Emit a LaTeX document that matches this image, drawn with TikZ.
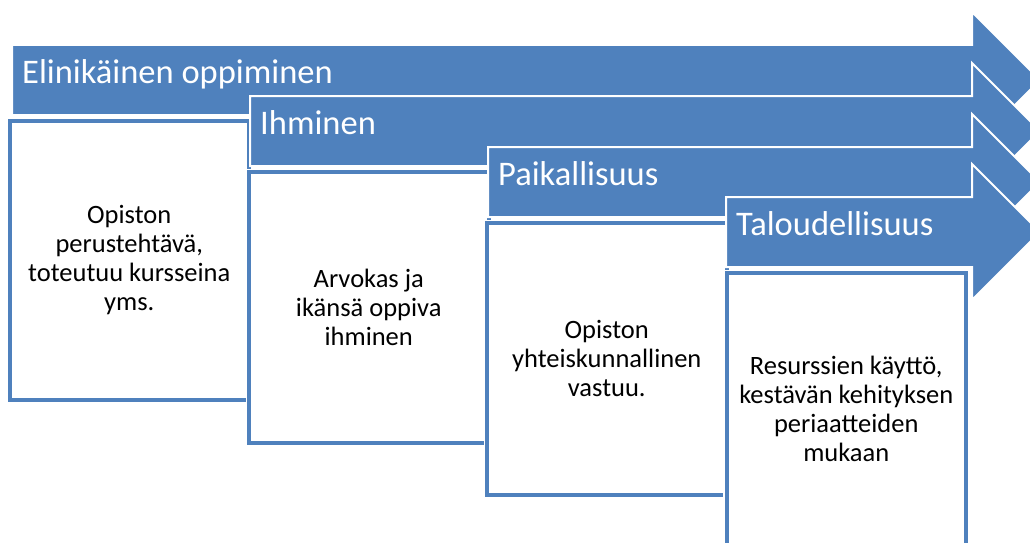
\documentclass[tikz,border=0pt]{standalone}
\usepackage{fontspec}
\setmainfont{Carlito}
\definecolor{band}{HTML}{4F81BD}

\begin{document}
\begin{tikzpicture}[x=1pt,y=-1pt,
arrowband/.style={fill=band,draw=white,line width=2pt,line join=miter},
card/.style={rectangle,fill=white,draw=white,line width=1.5pt,double=band,double distance=4pt,
  anchor=north west,outer sep=0pt,inner sep=0pt,minimum width=239.5pt,minimum height=272pt,
  align=center,font=\fontsize{26.5}{29}\selectfont},
title/.style={anchor=base west,inner sep=0pt,text=white,font=\fontsize{34.5}{40}\selectfont}]

\useasboundingbox (0,0) rectangle (1030,543);
\clip (0,0) rectangle (1030,543);

\draw[arrowband] (12,45) -- (972,45) -- (972,12) -- (1040,80) -- (972,148) -- (972,115) -- (12,115) -- cycle;
\node[title] (h1) at (22,83) {Elinikäinen oppiminen};
\node[card,minimum height=278.5pt] (c1) at (9.5,121) {Opiston\\perustehtävä,\\toteutuu kursseina\\yms.};

\draw[arrowband] (250,96) -- (972,96) -- (972,63) -- (1040,131) -- (972,199) -- (972,166) -- (250,166) -- cycle;
\node[title] (h2) at (260,134) {Ihminen};
\node[card,minimum height=270.5pt] (c2) at (249,172) {Arvokas ja\\ikänsä oppiva\\ihminen};

\draw[arrowband] (488,147) -- (972,147) -- (972,114) -- (1040,182) -- (972,250) -- (972,217) -- (488,217) -- cycle;
\node[title] (h3) at (498,185) {Paikallisuus};
\node[card,minimum height=271.5pt] (c3) at (487,223) {Opiston\\yhteiskunnallinen\\vastuu.};

\draw[arrowband] (726,197) -- (972,197) -- (972,164) -- (1040,232) -- (972,300) -- (972,267) -- (726,267) -- cycle;
\node[title] (h4) at (736,235) {Taloudellisuus};
\node[card] (c4) at (726.5,273) {Resurssien käyttö,\\kestävän kehityksen\\periaatteiden\\mukaan};
\end{tikzpicture}
\end{document}
